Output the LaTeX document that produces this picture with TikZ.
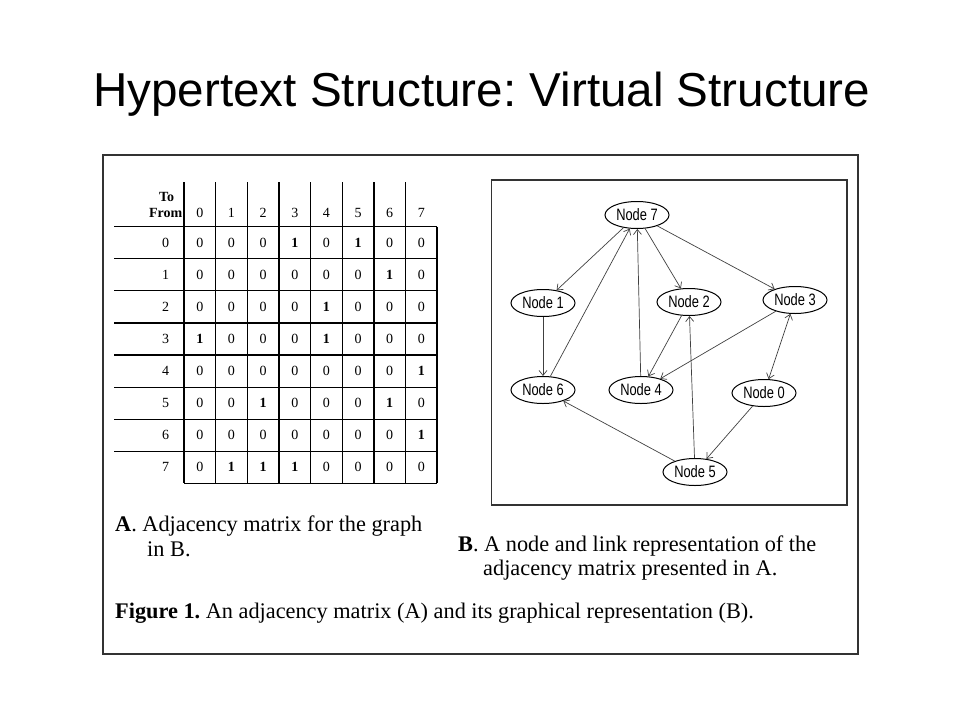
\documentclass[tikz,border=0pt]{standalone}
\usepackage{fontspec}
\setmainfont{Liberation Serif}
\newfontfamily\titlefont{Liberation Sans}
\newfontfamily\nodefont{Liberation Sans}[FakeStretch=0.78]
\usetikzlibrary{shapes.geometric,arrows.meta}
\frenchspacing

\tikzset{
  graphnode/.style={draw, ellipse, line width=1pt, minimum width=64pt, minimum height=27pt,
    inner sep=0pt, font=\nodefont\fontsize{16.5}{16.5}\selectfont},
  link/.style={-{Straight Barb[length=5pt,width=8pt]}, line width=0.7pt, draw=black!75},
  cell/.style={inner sep=0pt, font=\fontsize{14}{14}\selectfont},
  headcell/.style={inner sep=0pt, font=\bfseries\fontsize{14}{14}\selectfont},
  caption/.style={anchor=base west, inner sep=0pt, font=\fontsize{22.3}{22.3}\selectfont},
  tabline/.style={line width=1.2pt},
  frame/.style={line width=1.3pt, draw=black!80}
}

\begin{document}
\begin{tikzpicture}[x=1pt,y=-1pt]
\useasboundingbox (0,0) rectangle (960,720);
\def\colw{31.65}
\def\rowh{32.08}

\node[anchor=base, inner sep=0pt, font=\titlefont\fontsize{47.6}{50}\selectfont] (title) at (481.7,106.7) {Hypertext Structure: Virtual Structure};

\draw[frame] (103,155) rectangle (858,654);
\draw[frame] (491.7,180) rectangle (847,505);

\foreach \k in {0,...,7}
  \draw[tabline] ({184+\k*\colw},182) -- ({184+\k*\colw},483.3);
\draw[tabline] (437,226.7) -- (437,483.3);
\foreach \i in {0,...,7}
  \draw[tabline] (114,{226.7+\i*\rowh}) -- (437,{226.7+\i*\rowh});
\draw[tabline] (184,483.3) -- (437,483.3);

\node[headcell] (to) at (166.7,196.7) {To};
\node[headcell] (from) at (165.7,213) {From};
\foreach \c in {0,...,7}
  \node[cell] (head-\c) at ({184+(\c+0.5)*\colw},213.3) {\c};

\foreach \r/\vals in {0/{0,0,0,1,0,1,0,0},1/{0,0,0,0,0,0,1,0},2/{0,0,0,0,1,0,0,0},3/{1,0,0,0,1,0,0,0},
                      4/{0,0,0,0,0,0,0,1},5/{0,0,1,0,0,0,1,0},6/{0,0,0,0,0,0,0,1},7/{0,1,1,1,0,0,0,0}} {
  \node[cell] (row-\r) at (165.7,{242.8+\r*\rowh}) {\r};
  \foreach \v [count=\c from 0] in \vals
    \node[cell] (cell-\r-\c) at ({184+(\c+0.5)*\colw},{242.8+\r*\rowh}) {\ifnum\v=1 \bfseries\fi\v};
}

\node[graphnode] (node7) at (637,215) {Node 7};
\node[graphnode] (node1) at (543,303) {Node 1};
\node[graphnode] (node2) at (689,302) {Node 2};
\node[graphnode] (node3) at (795,300) {Node 3};
\node[graphnode] (node6) at (543,390) {Node 6};
\node[graphnode] (node4) at (641,390) {Node 4};
\node[graphnode] (node0) at (764,393) {Node 0};
\node[graphnode] (node5) at (695,472) {Node 5};

\draw[link] (node7) -- (node1);
\draw[link] (node7) -- (node2);
\draw[link] (node7) -- (node3);
\draw[link] (node1) -- (node6);
\draw[link] (node6) -- (node7);
\draw[link] (node4) -- (node7);
\draw[link] (node2) -- (node4);
\draw[link] (node3) -- (node4);
\draw[link,{Straight Barb[length=5pt,width=8pt]}-{Straight Barb[length=5pt,width=8pt]}] (node3) -- (node0);
\draw[link] (node0) -- (node5);
\draw[link] (node5) -- (node2);
\draw[link] (node5) -- (node6);

\node[caption] (capa) at (115,531) {\textbf{A}. Adjacency matrix for the graph};
\node[caption] (capa2) at (147,556) {in B.};
\node[caption] (capb) at (458,551) {\textbf{B}. A node and link representation of the};
\node[caption] (capb2) at (483,575) {adjacency matrix presented in A.};
\node[caption] (figcap) at (115,618) {\textbf{Figure 1.} An adjacency matrix (A) and its graphical representation (B).};
\end{tikzpicture}
\end{document}
